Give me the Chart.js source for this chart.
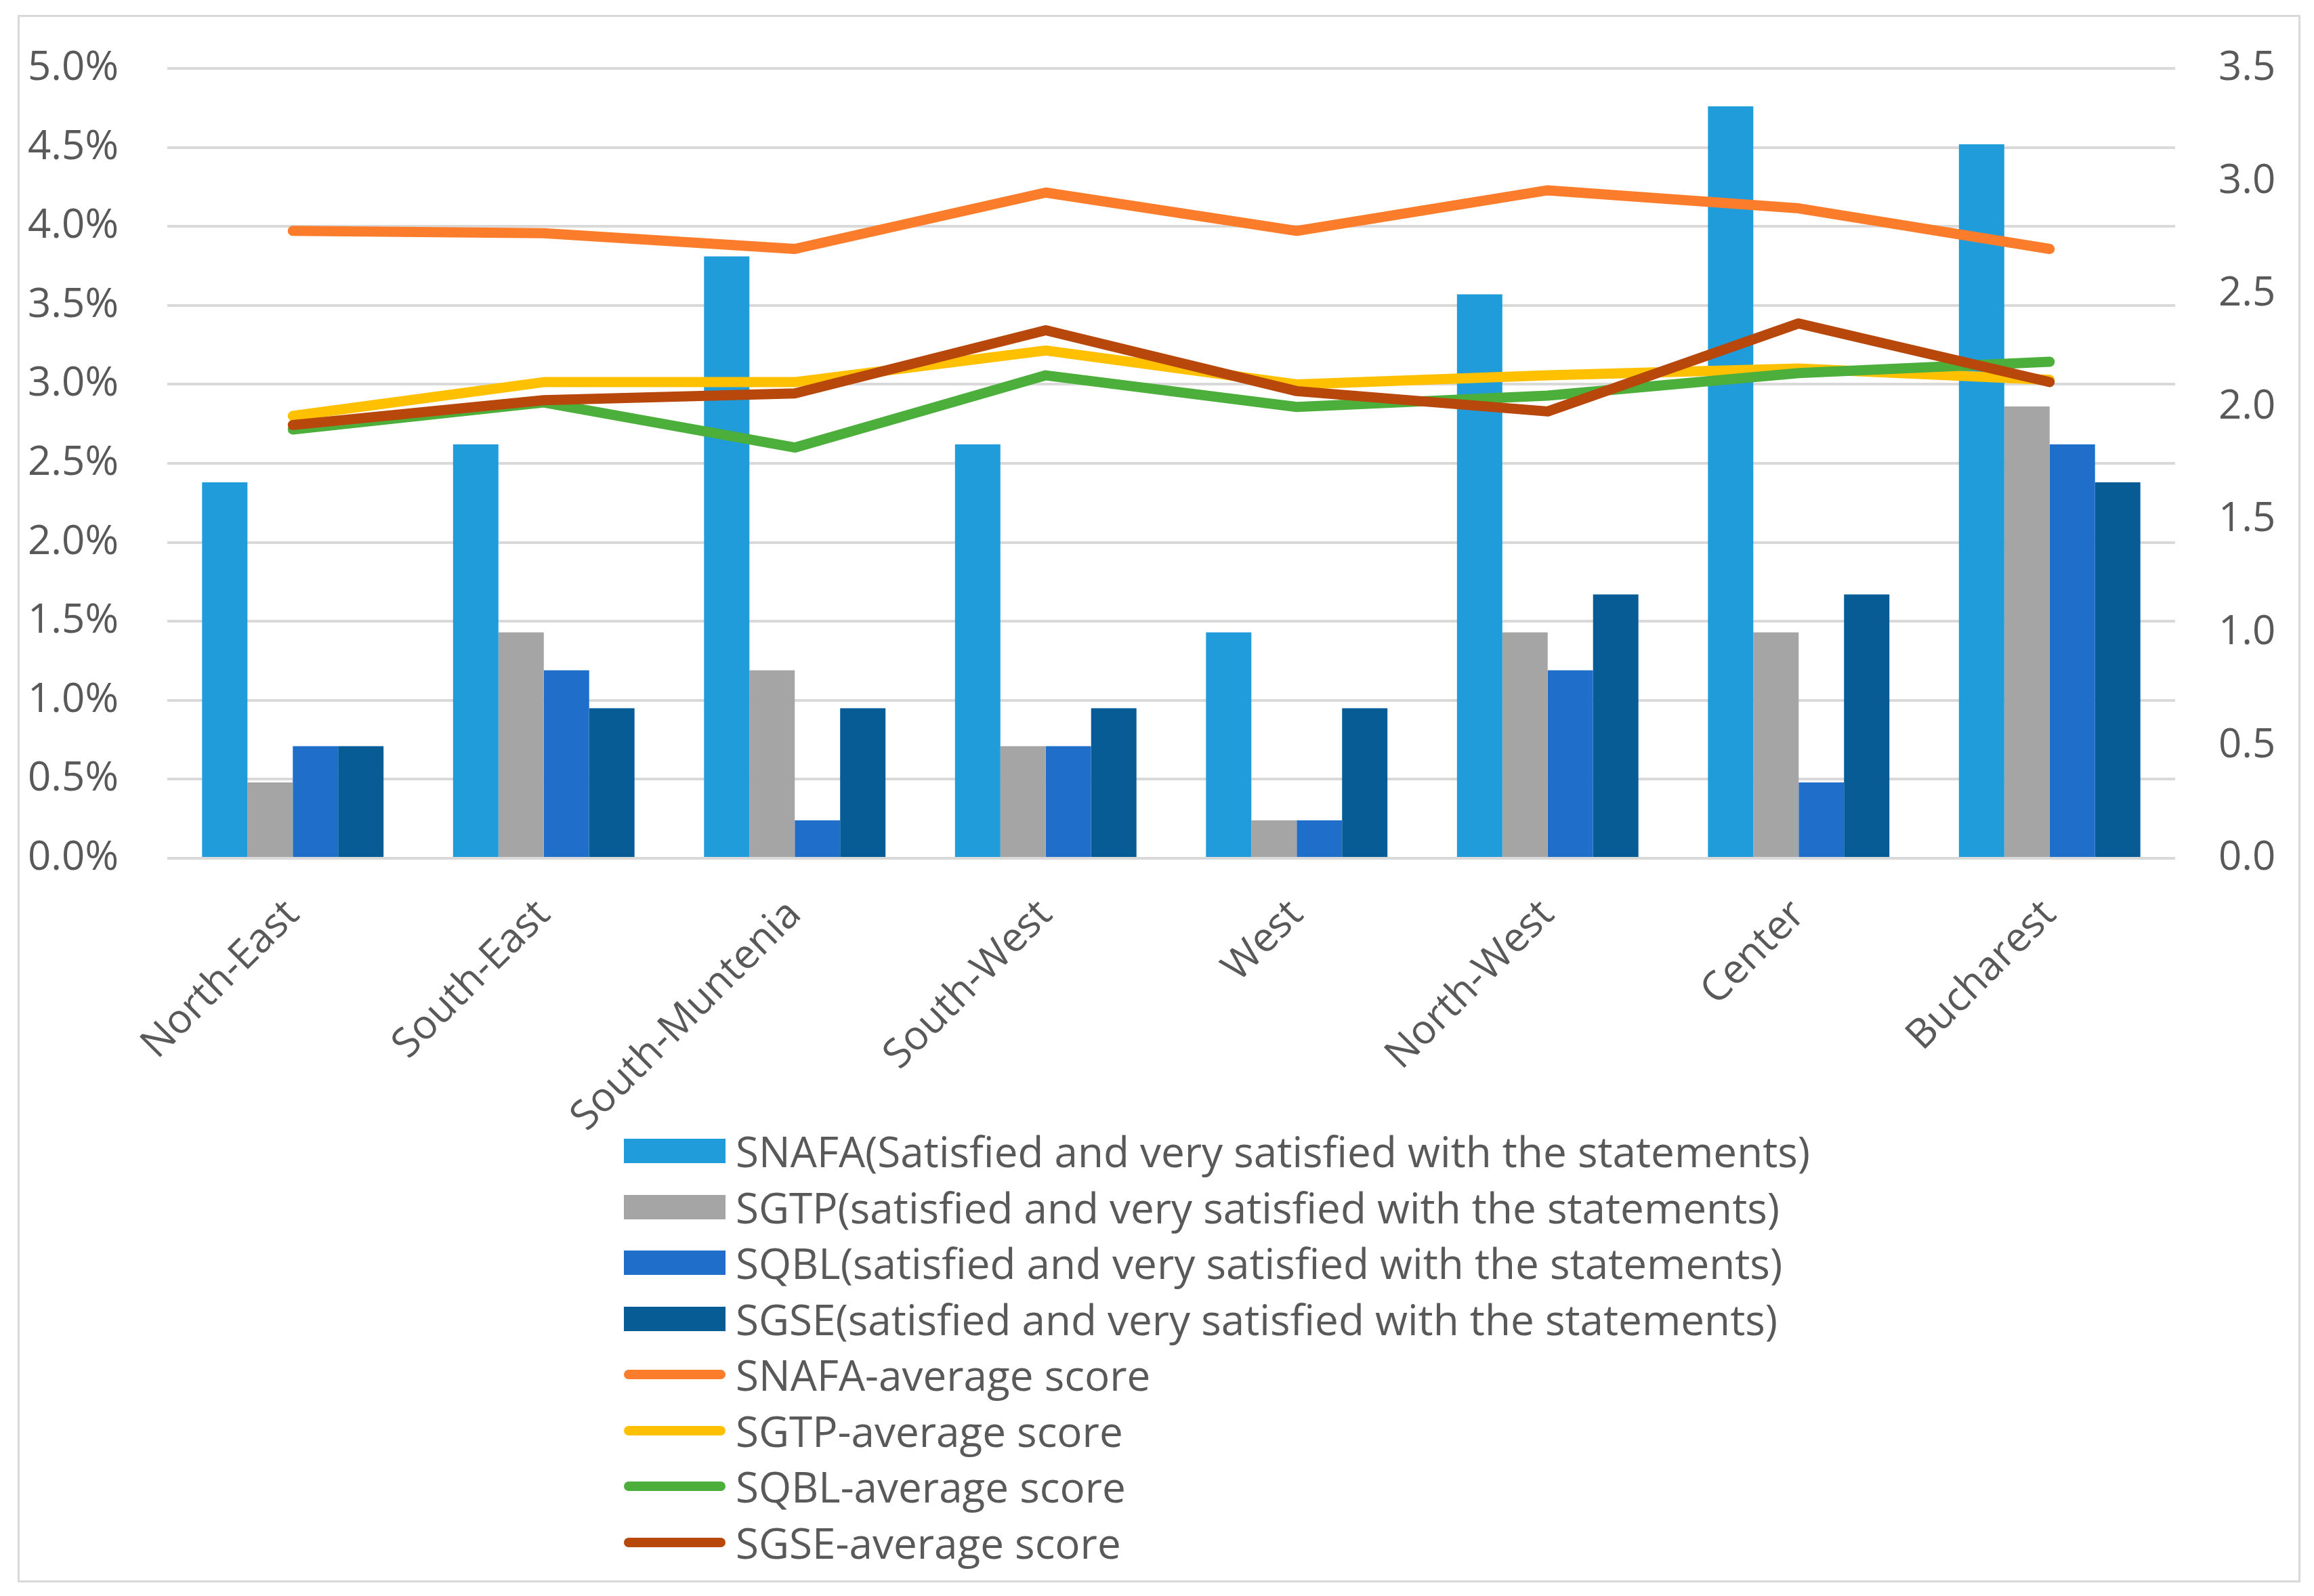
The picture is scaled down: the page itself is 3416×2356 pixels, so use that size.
<!DOCTYPE html>
<html lang="en">
<head>
    <meta charset="UTF-8">
    <title>Satisfaction by region</title>
    <style>
        html, body { margin: 0; padding: 0; background: #fff; }
        .frame {
            position: absolute; left: 26px; top: 22px;
            width: 3370px; height: 2314px;
            box-sizing: border-box; border: 3px solid #d9d9d9;
        }
        .chart-container { position: absolute; left: 0; top: 0; width: 3364px; height: 2308px; }
        #legend {
            position: absolute; left: 892px; top: 1633px;
            font-family: "Open Sans", sans-serif; font-size: 62px; color: #595959;
        }
        .item { height: 82.5px; display: flex; align-items: center; white-space: nowrap; }
        .swatch { width: 150px; margin-right: 15px; flex: none; }
        .swatch.box { height: 36px; }
        .swatch.line { height: 14px; border-radius: 7px; }
    </style>
</head>
<body>
    <div class="frame">
        <div class="chart-container">
            <canvas id="regionChart"></canvas>
        </div>
        <div id="legend"></div>
    </div>

    <script src="https://cdn.jsdelivr.net/npm/chart.js"></script>
    <script>
        const regions = ['North-East', 'South-East', 'South-Muntenia', 'South-West', 'West', 'North-West', 'Center', 'Bucharest'];

        // share of respondents, % (left axis)
        const snafaPct = [2.38, 2.62, 3.81, 2.62, 1.43, 3.57, 4.76, 4.52];
        const sgtpPct  = [0.48, 1.43, 1.19, 0.71, 0.24, 1.43, 1.43, 2.86];
        const sqblPct  = [0.71, 1.19, 0.24, 0.71, 0.24, 1.19, 0.48, 2.62];
        const sgsePct  = [0.71, 0.95, 0.95, 0.95, 0.95, 1.67, 1.67, 2.38];

        // average scores (right axis)
        const snafaAvg = [2.78, 2.77, 2.70, 2.95, 2.78, 2.96, 2.88, 2.70];
        const sgtpAvg  = [1.96, 2.11, 2.11, 2.25, 2.10, 2.14, 2.17, 2.12];
        const sqblAvg  = [1.90, 2.02, 1.82, 2.14, 2.00, 2.05, 2.15, 2.20];
        const sgseAvg  = [1.92, 2.03, 2.06, 2.34, 2.07, 1.98, 2.37, 2.11];

        const barLabels = [
            'SNAFA(Satisfied and very satisfied with the statements)',
            'SGTP(satisfied and very satisfied with the statements)',
            'SQBL(satisfied and very satisfied with the statements)',
            'SGSE(satisfied and very satisfied with the statements)'
        ];
        const lineLabels = ['SNAFA-average score', 'SGTP-average score', 'SQBL-average score', 'SGSE-average score'];
        const barColors = ['#209cda', '#a5a5a5', '#1f6fca', '#075c96'];
        const lineColors = ['#fb7d2c', '#ffc000', '#4caf3c', '#b7470b'];

        const textColor = '#595959';
        const font = { family: '"Open Sans", sans-serif', size: 60 };

        const barSets = [snafaPct, sgtpPct, sqblPct, sgsePct].map((vals, i) => ({
            type: 'bar',
            label: barLabels[i],
            data: vals,
            backgroundColor: barColors[i],
            yAxisID: 'y',
            order: 10,
            categoryPercentage: 0.723,
            barPercentage: 1.0
        }));

        // later series sit on top, like the original
        const lineSets = [snafaAvg, sgtpAvg, sqblAvg, sgseAvg].map((vals, i) => ({
            type: 'line',
            label: lineLabels[i],
            data: vals,
            borderColor: lineColors[i],
            backgroundColor: lineColors[i],
            borderWidth: 15,
            borderCapStyle: 'round',
            borderJoinStyle: 'round',
            pointRadius: 0,
            tension: 0,
            yAxisID: 'y1',
            order: 4 - i
        }));

        // fixed axis widths; drop the extra top/bottom padding the tick padding adds
        const fixWidth = w => s => { s.width = w; s.paddingTop = 0; s.paddingBottom = 0; };

        const ctx = document.getElementById('regionChart').getContext('2d');
        new Chart(ctx, {
            data: { labels: regions, datasets: [...barSets, ...lineSets] },
            options: {
                responsive: true,
                maintainAspectRatio: false,
                animation: false,
                layout: { padding: { top: 76, left: 0, right: 0, bottom: 0 } },
                plugins: { legend: { display: false }, tooltip: { enabled: false } },
                scales: {
                    x: {
                        grid: { display: false },
                        border: { display: false },
                        ticks: { color: textColor, font, minRotation: 45, maxRotation: 45, padding: 40 },
                        afterFit: s => { s.height = 1066; }
                    },
                    y: {
                        position: 'left',
                        min: 0, max: 5,
                        grid: { color: '#d9d9d9', lineWidth: 4, drawTicks: false },
                        border: { display: false },
                        ticks: { stepSize: 0.5, color: textColor, font, padding: 72,
                                 callback: v => v.toFixed(1) + '%' },
                        afterFit: fixWidth(218)
                    },
                    y1: {
                        position: 'right',
                        min: 0, max: 3.5,
                        grid: { display: false, drawTicks: false },
                        border: { display: false },
                        ticks: { stepSize: 0.5, color: textColor, font, padding: 64,
                                 callback: v => v.toFixed(1) },
                        afterFit: fixWidth(182)
                    }
                }
            }
        });

        // legend: one entry per row, as in the source figure
        const legend = document.getElementById('legend');
        barLabels.forEach((txt, i) => {
            legend.insertAdjacentHTML('beforeend',
                `<div class="item"><span class="swatch box" style="background:${barColors[i]}"></span>${txt}</div>`);
        });
        lineLabels.forEach((txt, i) => {
            legend.insertAdjacentHTML('beforeend',
                `<div class="item"><span class="swatch line" style="background:${lineColors[i]}"></span>${txt}</div>`);
        });
    </script>
</body>
</html>
